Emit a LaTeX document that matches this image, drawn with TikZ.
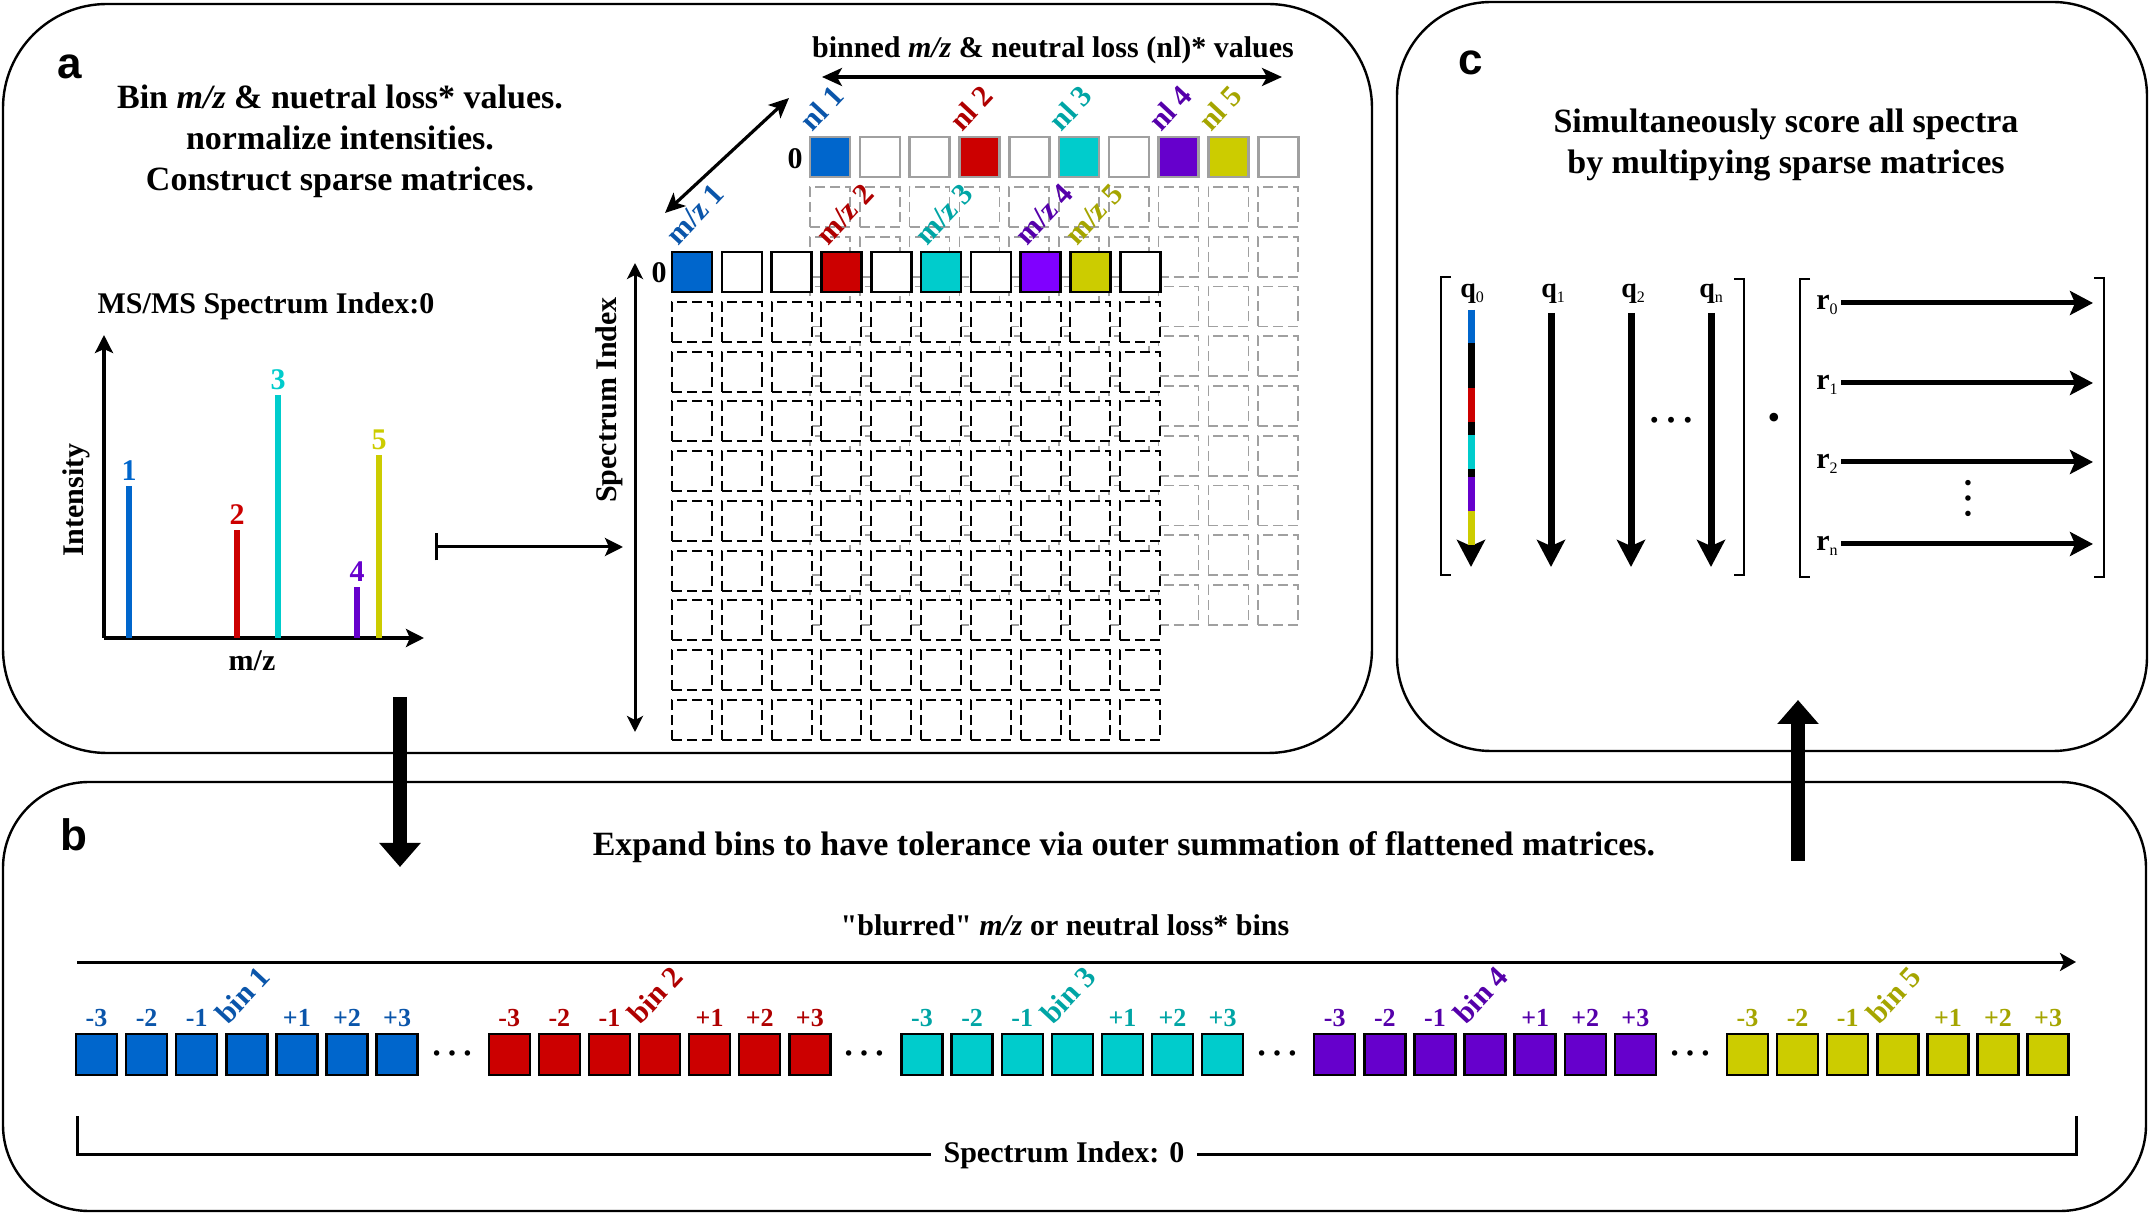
\documentclass[tikz,border=0pt]{standalone}
\usepackage{fontspec}
\setmainfont{Liberation Serif}
\newfontfamily\sansf{Liberation Sans}
\usetikzlibrary{arrows.meta}
\definecolor{cblue}{RGB}{0,102,204}
\definecolor{cred}{RGB}{204,0,0}
\definecolor{ccyan}{RGB}{0,204,204}
\definecolor{cpurple}{RGB}{102,0,204}
\definecolor{cviolet}{RGB}{128,0,255}
\definecolor{cyellow}{RGB}{204,204,0}
\definecolor{tblue}{RGB}{10,85,170}
\definecolor{tred}{RGB}{175,0,0}
\definecolor{tcyan}{RGB}{0,165,165}
\definecolor{tpurple}{RGB}{85,0,170}
\definecolor{tyellow}{RGB}{165,165,0}
\definecolor{bgray}{RGB}{160,160,160}
\newcommand\sqquote{\XeTeXglyph\XeTeXglyphindex "quotedbl" \relax}
\newcommand\subs[1]{\raisebox{-0.35ex}{\mdseries\fontsize{8}{8}\selectfont #1}}
\begin{document}
\begin{tikzpicture}[x=0.5pt,y=-0.5pt,
  panel/.style={draw=black, line width=1.2pt, rounded corners=#1, inner sep=0pt, outer sep=0pt},
  ttl/.style={font=\bfseries\fontsize{17}{20.5}\selectfont, align=center, inner sep=0pt},
  lbl/.style={font=\bfseries\fontsize{15}{18}\selectfont, inner sep=0pt},
  sml/.style={font=\bfseries\fontsize{14}{16}\selectfont, inner sep=0pt},
  rot/.style={font=\bfseries\fontsize{15}{17}\selectfont, inner sep=0pt, rotate=47, anchor=south west},
  plet/.style={font=\sansf\bfseries\fontsize{22}{26}\selectfont, inner sep=0pt},
  peak/.style={line width=3.1pt},
  axisarr/.style={line width=1.8pt, -{Stealth[length=9pt,width=9pt,inset=2pt]}},
  dbl/.style={line width=1.6pt, {Stealth[length=10pt,width=9pt,inset=2.5pt]}-{Stealth[length=10pt,width=9pt,inset=2.5pt]}},
  bsolid/.style={draw=bgray, line width=1.3pt, minimum size=20pt, inner sep=0pt, outer sep=0pt},
  fsolid/.style={draw=black, line width=1.3pt, minimum size=20pt, inner sep=0pt, outer sep=0pt},
  bdash/.style={draw=bgray, line width=0.8pt, dash pattern=on 5pt off 2.5pt, minimum size=20pt, inner sep=0pt, outer sep=0pt},
  fdash/.style={draw=black, fill=white, line width=1pt, dash pattern=on 5pt off 2.5pt, minimum size=20pt, inner sep=0pt, outer sep=0pt},
  bigarr/.style={line width=7pt, -{Triangle[length=12pt,width=20pt]}},
  qarr/.style={line width=3.5pt, -{Stealth[length=13.5pt,width=14pt,inset=3pt]}},
  rarr/.style={line width=2.5pt, -{Stealth[length=11.5pt,width=12pt,inset=2.5pt]}},
  brk/.style={line width=1.2pt},
  bsq/.style={draw=black, line width=1.2pt, minimum size=20.5pt, inner sep=0pt, outer sep=0pt},
  nums/.style={font=\bfseries\fontsize{13}{15}\selectfont, inner sep=0pt},
]
\useasboundingbox (0,0) rectangle (2149,1213);

% ---------- panels ----------
\node[panel=52pt, minimum width=684.5pt, minimum height=374.5pt] (pa) at (687.5,378.5) {};
\node[panel=47pt, minimum width=375pt, minimum height=374.5pt] (pc) at (1772,376.5) {};
\node[panel=43pt, minimum width=1071.5pt, minimum height=214.5pt] (pb) at (1074.5,996.5) {};
\node[plet] (la) at (70,67) {a};
\node[plet] (lb) at (74,835) {b};
\node[plet] (lc) at (1471,63) {c};

% ---------- panel a: text ----------
\node[ttl] (ta) at (340,141) {Bin \textit{m/z} \& nuetral loss* values.\\ normalize intensities.\\ Construct sparse matrices.};
\node[lbl] (msms) at (266,306) {MS/MS Spectrum Index:0};

% spectrum
\coordinate (o) at (104,638);
\coordinate (ytop) at (104,335);
\coordinate (xend) at (424,638);
\draw[axisarr] (o) -- (ytop);
\draw[axisarr] (o) -- (xend);
\node[lbl, rotate=90] (inten) at (76,500) {Intensity};
\node[lbl] (mzax) at (252,661) {m/z};
\foreach \n/\x/\t/\c in {1/129/486/cblue, 2/237/530/cred, 3/278/395/ccyan, 4/357/587/cpurple, 5/379/455/cyellow} {
  \coordinate (pb\n) at (\x,638);
  \coordinate (pt\n) at (\x,\t);
  \draw[peak, \c] (pb\n) -- (pt\n);
  \node[font=\bfseries\fontsize{15}{18}\selectfont, text=\c, inner sep=0pt] (pl\n) at (\x,{\t-15}) {\n};
}

% mapsto arrow
\coordinate (mt-s) at (435,547);
\coordinate (mt-e) at (623,547);
\draw[line width=1.5pt, {Bar[width=13.5pt]}-{Stealth[length=9pt,width=9pt,inset=2pt]}] (mt-s) -- (mt-e);

% ---------- matrices ----------
\foreach \i in {0,...,9} {
  \foreach \j in {0,...,8} {
    \node[bdash] (bd-\i-\j) at ({830+49.8*\i},{207+49.75*\j}) {};
  }
}
\foreach \i/\c in {0/cblue,1/white,2/white,3/cred,4/white,5/ccyan,6/white,7/cpurple,8/cyellow,9/white} {
  \node[bsolid, fill=\c] (bs-\i) at ({830+49.8*\i},157) {};
}
\foreach \i in {0,...,9} {
  \foreach \j in {0,...,8} {
    \node[fdash] (fd-\i-\j) at ({692+49.8*\i},{322+49.75*\j}) {};
  }
}
\foreach \i/\c in {0/cblue,1/white,2/white,3/cred,4/white,5/ccyan,6/white,7/cviolet,8/cyellow,9/white} {
  \node[fsolid, fill=\c] (fs-\i) at ({692+49.8*\i},272) {};
}
\foreach \i/\k/\c in {0/1/tblue,3/2/tred,5/3/tcyan,7/4/tpurple,8/5/tyellow} {
  \node[rot, text=\c] (nl\k) at ([xshift=1.5pt,yshift=2pt]bs-\i.north west) {nl \k};
  \node[rot, text=\c] (mz\k) at ([xshift=3.5pt,yshift=2.5pt]fs-\i.north west) {m/z \k};
}
\node[lbl] (zf) at (659,273) {0};
\node[lbl] (zb) at (795,159) {0};
\node[lbl] (binned) at (1053,50) {binned \textit{m/z} \& neutral loss (nl)* values};
\coordinate (hb-l) at (822,77);
\coordinate (hb-r) at (1282,77);
\draw[dbl] (hb-l) -- (hb-r);
\coordinate (dg-l) at (665,213);
\coordinate (dg-r) at (789,98);
\draw[dbl] (dg-l) -- (dg-r);
\coordinate (si-t) at (635,263);
\coordinate (si-b) at (635,732);
\draw[line width=1.5pt, {Stealth[length=8pt,width=8pt,inset=2pt]}-{Stealth[length=8pt,width=8pt,inset=2pt]}] (si-t) -- (si-b);
\node[lbl, rotate=90] (silbl) at (609,400) {Spectrum Index};

% ---------- big arrows ----------
\coordinate (ab-s) at (400,697);
\coordinate (ab-e) at (400,867);
\draw[bigarr] (ab-s) -- (ab-e);
\coordinate (bc-s) at (1798,861);
\coordinate (bc-e) at (1798,700);
\draw[bigarr] (bc-s) -- (bc-e);

% ---------- panel c ----------
\node[ttl] (tc) at (1786,145) {Simultaneously score all spectra\\ by multipying sparse matrices};
\draw[brk] (1451,277) -- (1441,277) -- (1441,575) -- (1451,575);
\draw[brk] (1734,279) -- (1744,279) -- (1744,575) -- (1734,575);
\draw[brk] (1810,279) -- (1800,279) -- (1800,577) -- (1810,577);
\draw[brk] (2094,278) -- (2104,278) -- (2104,577) -- (2094,577);
\node[sml, anchor=base west] (q0) at (1460,298) {q\subs{0}};
\node[sml, anchor=base west] (q1) at (1541,298) {q\subs{1}};
\node[sml, anchor=base west] (q2) at (1621,298) {q\subs{2}};
\node[sml, anchor=base west] (qn) at (1699,298) {q\subs{n}};
\coordinate (q0-s) at (1471,310);
\coordinate (q0-e) at (1471,567);
\draw[qarr] (q0-s) -- (q0-e);
\foreach \a/\b/\c in {310/343/cblue, 388/422/cred, 435/469/ccyan, 477/511/cpurple, 511/545/cyellow} {
  \draw[line width=3.5pt, \c] (1471,\a) -- (1471,\b);
}
\foreach \n/\x in {q1/1551, q2/1631, qn/1711} {
  \coordinate (\n-s) at (\x,313);
  \coordinate (\n-e) at (\x,567);
  \draw[qarr] (\n-s) -- (\n-e);
}
\node[inner sep=0pt, font=\fontsize{25}{25}\selectfont] (hd) at (1671,420) {…};
\node[inner sep=0pt, font=\fontsize{18}{18}\selectfont] (dot) at (1774,421) {•};
\foreach \n/\y/\s in {r0/303/0, r1/383/1, r2/462/2, rn/544/n} {
  \node[sml, anchor=base west, font=\bfseries\fontsize{15}{16}\selectfont] (\n) at (1816,{\y+7}) {r\subs{\s}};
  \coordinate (\n-s) at (1841,\y);
  \coordinate (\n-e) at (2093,\y);
  \draw[rarr] (\n-s) -- (\n-e);
}
\node[inner sep=0pt, rotate=90, font=\fontsize{23}{23}\selectfont] (vd) at (1968,499) {…};

% ---------- panel b ----------
\node[ttl] (tb) at (1124,847) {Expand bins to have tolerance via outer summation of flattened matrices.};
\node[lbl] (blur) at (1065,925) {\sqquote blurred\sqquote{} \textit{m/z} or neutral loss* bins};
\coordinate (ax-s) at (77,962);
\coordinate (ax-e) at (2076,962);
\draw[line width=1.5pt, -{Stealth[length=8pt,width=9pt,inset=2pt]}] (ax-s) -- (ax-e);
\foreach \g/\c/\t/\m in {0/cblue/tblue/1, 1/cred/tred/2, 2/ccyan/tcyan/3, 3/cpurple/tpurple/4, 4/cyellow/tyellow/5} {
  \foreach \k in {0,...,6} {
    \node[bsq, fill=\c] (s\g-\k) at ({96.5+412.75*\g+50.1*\k},1054.5) {};
  }
  \foreach \k/\lab in {0/-3,1/-2,2/-1,4/+1,5/+2,6/+3} {
    \node[nums, text=\t] (n\g-\k) at ({96.5+412.75*\g+50.1*\k},1018) {\lab};
  }
  \node[rot, text=\t] (bin\m) at ([xshift=1pt,yshift=4pt]s\g-3.north west) {bin \m};
}
\foreach \g in {0,...,3} {
  \node[inner sep=0pt, font=\fontsize{23}{23}\selectfont] (bd\g) at ({452+412.75*\g},1053) {…};
}
\node[lbl, inner xsep=6pt] (sidx) at (1064,1155) {Spectrum Index: 0};
\draw[line width=1.5pt] (77,1116) -- (77,1154) -- (sidx.west |- 0,1154);
\draw[line width=1.5pt] (sidx.east |- 0,1154) -- (2076,1154) -- (2076,1116);
\end{tikzpicture}
\end{document}
